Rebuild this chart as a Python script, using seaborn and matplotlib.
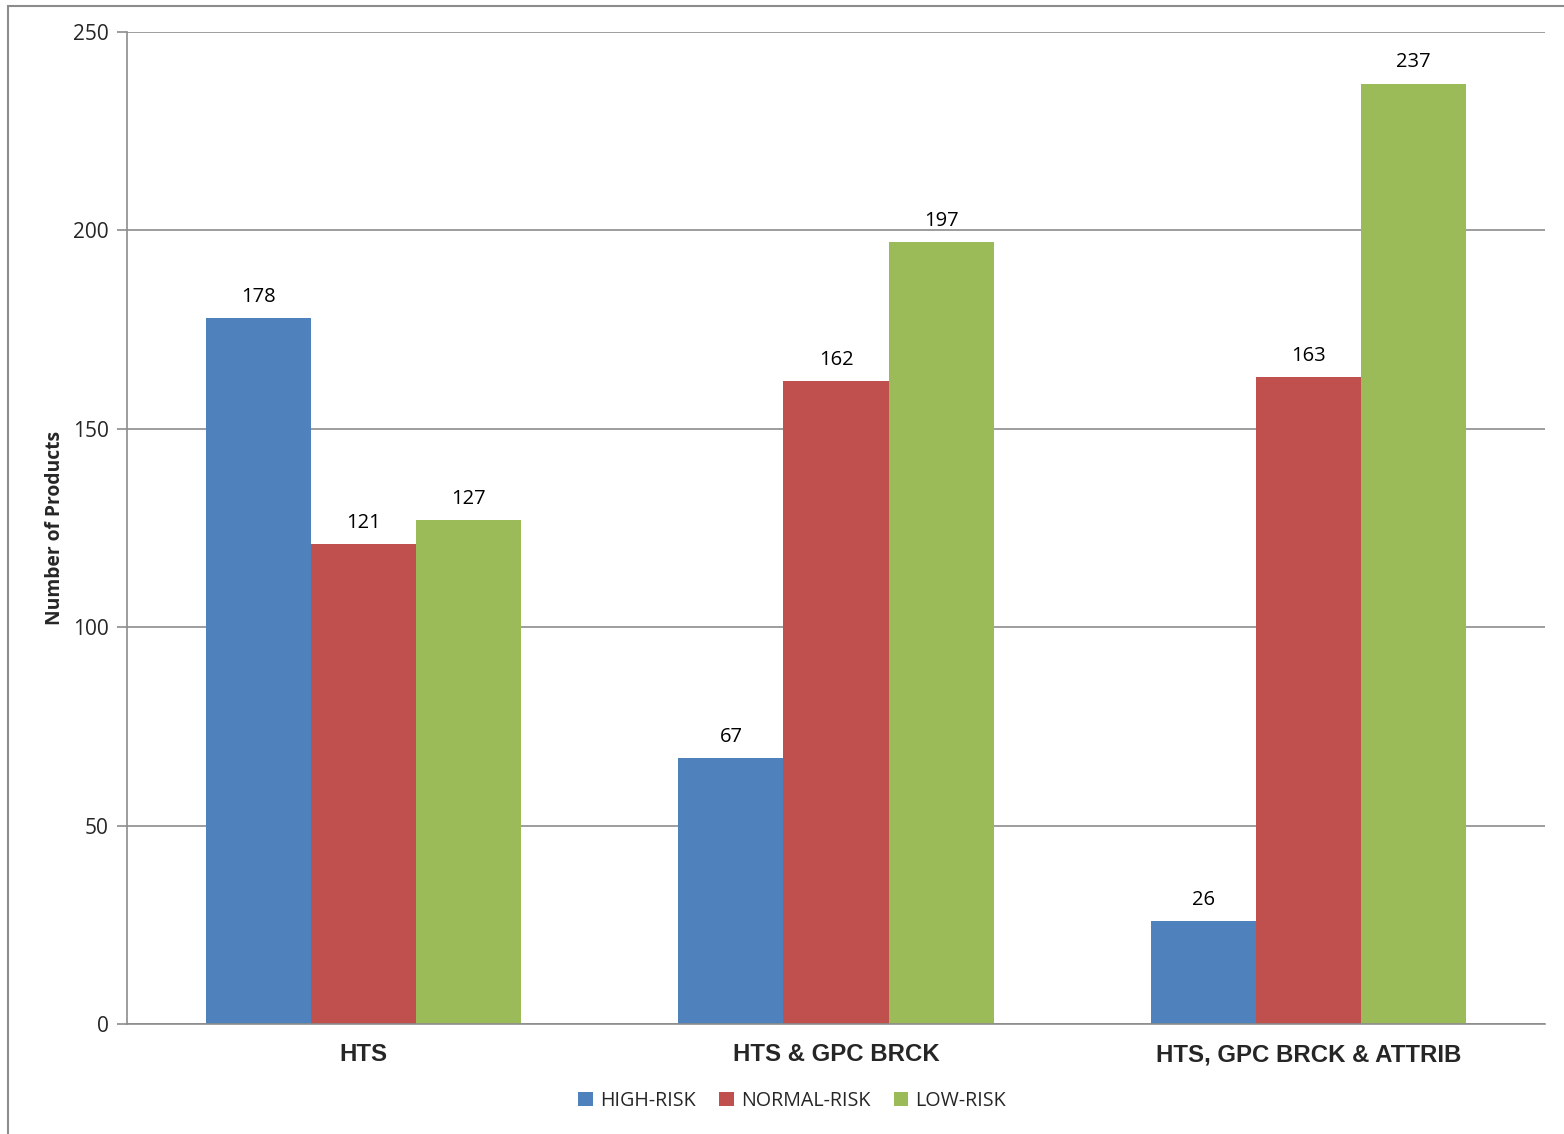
import matplotlib
matplotlib.use("Agg")
import matplotlib.pyplot as plt
import seaborn as sns
import pandas as pd
from matplotlib.patches import Rectangle

categories = ["HTS", "HTS & GPC BRCK", "HTS, GPC BRCK & ATTRIB"]
series = ["HIGH-RISK", "NORMAL-RISK", "LOW-RISK"]
high_risk = [178, 67, 26]
normal_risk = [121, 162, 163]
low_risk = [127, 197, 237]
y_ticks = [0, 50, 100, 150, 200, 250]

rows = []
for s, vals in zip(series, [high_risk, normal_risk, low_risk]):
    for c, v in zip(categories, vals):
        rows.append({"category": c, "series": s, "value": v})
df = pd.DataFrame(rows)

sns.set_style("white")
plt.rcParams['font.family'] = ['Open Sans', 'DejaVu Sans']

fig = plt.figure(figsize=(15.64, 11.34), dpi=100)
ax = fig.add_axes([127/1564, 1 - 1024/1134, (1545-127)/1564, (1024-32)/1134])

palette = ["#4F81BD", "#C0504D", "#9BBB59"]
sns.barplot(data=df, x="category", y="value", hue="series", order=categories,
            hue_order=series, palette=palette, width=0.667, saturation=1,
            ax=ax, legend=True, linewidth=0, gap=0)

ax.set_ylim(0, 250)
ax.set_xlim(-0.5, 2.5)
ax.set_yticks(y_ticks)
ax.set_yticklabels([str(t) for t in y_ticks], fontsize=15)
ax.yaxis.grid(True, color="#8C8C8C", linewidth=1.2)
ax.set_axisbelow(True)

for cont in ax.containers:
    ax.bar_label(cont, padding=8, fontsize=14.5, color="black")

ax.set_xticks(range(3))
ax.set_xticklabels(categories, fontsize=17.3, fontweight="bold",
                   family=["Liberation Sans", "DejaVu Sans"])
ax.tick_params(axis="x", which="major", length=0, pad=14)
ax.set_xticks([-0.5, 0.5, 1.5, 2.5], minor=True)
ax.tick_params(axis="x", which="minor", length=7, width=1.2, color="#8C8C8C", direction="out")
ax.tick_params(axis="y", length=7, width=1.2, color="#8C8C8C", direction="out", pad=6, left=True)

for side in ["top", "right"]:
    ax.spines[side].set_visible(False)
for side in ["left", "bottom"]:
    ax.spines[side].set_color("#8C8C8C")
    ax.spines[side].set_linewidth(1.2)

ax.set_xlabel("")
ax.set_ylabel("Number of Products", fontsize=13.9, fontweight="bold", labelpad=6)

leg = ax.legend(loc="center", bbox_to_anchor=(792/1564, 1 - 1101/1134),
                bbox_transform=fig.transFigure, ncol=3, frameon=False,
                fontsize=14.2, handlelength=0.75, handleheight=0.75,
                handletextpad=0.35, columnspacing=1.2)

fig.patches.append(Rectangle((8/1564, -0.01), 1.1, 1 - 6/1134 + 0.01,
                             transform=fig.transFigure, fill=False,
                             edgecolor="#8C8C8C", linewidth=1.5))

fig.savefig("out.png", dpi=100)
